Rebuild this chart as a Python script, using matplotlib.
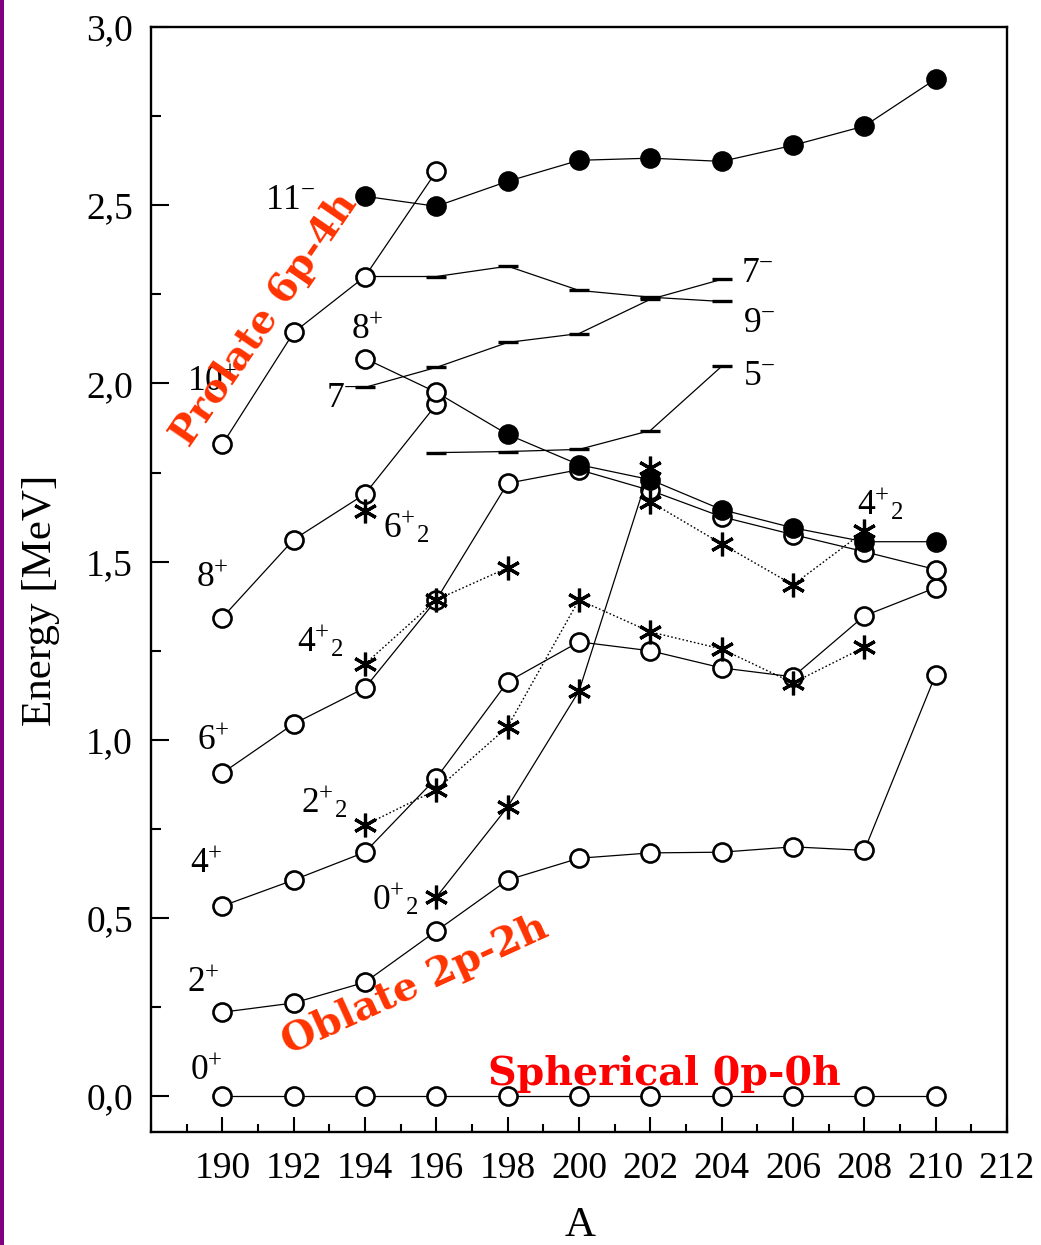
import matplotlib
matplotlib.use("Agg")
import matplotlib.pyplot as plt
from matplotlib.ticker import MultipleLocator, FuncFormatter
from matplotlib.patches import Rectangle

plt.rcParams['font.family'] = ['Liberation Serif', 'DejaVu Serif']
plt.rcParams['mathtext.fontset'] = 'custom'
plt.rcParams['mathtext.rm'] = 'Liberation Serif'
plt.rcParams['mathtext.it'] = 'Liberation Serif:italic'
plt.rcParams['mathtext.bf'] = 'Liberation Serif:bold'

# ---------------- data (A, energy in MeV) ----------------
A_all = [190, 192, 194, 196, 198, 200, 202, 204, 206, 208, 210]

E_0p = [0.0, 0.0, 0.0, 0.0, 0.0, 0.0, 0.0, 0.0, 0.0, 0.0, 0.0]
E_2p = [0.236, 0.262, 0.320, 0.464, 0.607, 0.668, 0.683, 0.685, 0.700, 0.690, 1.183]
E_4p = [0.534, 0.607, 0.685, 0.893, 1.163, 1.275, 1.250, 1.202, 1.177, 1.348, 1.427]
E_6p = [0.907, 1.045, 1.146, 1.393, 1.720, 1.758, 1.700, 1.626, 1.576, 1.528, 1.478]

A_8p = [190, 192, 194, 196]
E_8p = [1.343, 1.562, 1.690, 1.941]

A_10p = [190, 192, 194, 196]
E_10p = [1.829, 2.143, 2.300, 2.595]

A_8hi = [194, 196, 198, 200, 202, 204, 206, 208, 210]
E_8hi = [2.070, 1.975, 1.857, 1.772, 1.730, 1.646, 1.595, 1.556, 1.556]
filled_8hi = [False, False, True, True, True, True, True, True, True]

A_11m = [194, 196, 198, 200, 202, 204, 206, 208, 210]
E_11m = [2.525, 2.497, 2.567, 2.626, 2.632, 2.623, 2.668, 2.722, 2.854]

A_0p2 = [196, 198, 200, 202]
E_0p2 = [0.559, 0.812, 1.137, 1.764]

A_2p2 = [194, 196, 198, 200, 202, 204, 206, 208]
E_2p2 = [0.761, 0.860, 1.037, 1.393, 1.303, 1.255, 1.160, 1.260]

A_4p2 = [194, 196, 198]
E_4p2 = [1.213, 1.393, 1.483]

A_6p2 = [194]
E_6p2 = [1.643]

A_4p2b = [202, 204, 206, 208]
E_4p2b = [1.668, 1.550, 1.435, 1.585]

A_7m = [194, 196, 198, 200, 202, 204]
E_7m = [1.989, 2.045, 2.115, 2.140, 2.236, 2.292]

A_9m = [194, 196, 198, 200, 202, 204]
E_9m = [2.300, 2.300, 2.329, 2.261, 2.242, 2.230]

A_5m = [196, 198, 200, 202, 204]
E_5m = [1.806, 1.809, 1.815, 1.868, 2.048]

x_ticks = [190, 192, 194, 196, 198, 200, 202, 204, 206, 208, 210, 212]

# level labels: (text, A, E) -- left/baseline anchor
level_labels = [
    (r'$\mathrm{11}^{-}$', 191.2, 2.489),
    (r'$\mathrm{10}^{+}$', 189.0, 1.978),
    (r'$\mathrm{8}^{+}$', 193.6, 2.124),
    (r'$\mathrm{7}^{-}$', 192.9, 1.935),
    (r'$\mathrm{7}^{-}$', 204.55, 2.284),
    (r'$\mathrm{9}^{-}$', 204.6, 2.143),
    (r'$\mathrm{5}^{-}$', 204.6, 1.997),
    (r'$\mathrm{4}^{+}{}_{\mathrm{2}}$', 207.8, 1.632),
    (r'$\mathrm{6}^{+}{}_{\mathrm{2}}$', 194.5, 1.567),
    (r'$\mathrm{4}^{+}{}_{\mathrm{2}}$', 192.1, 1.247),
    (r'$\mathrm{8}^{+}$', 189.25, 1.430),
    (r'$\mathrm{6}^{+}$', 189.3, 0.972),
    (r'$\mathrm{2}^{+}{}_{\mathrm{2}}$', 192.2, 0.795),
    (r'$\mathrm{4}^{+}$', 189.1, 0.626),
    (r'$\mathrm{0}^{+}{}_{\mathrm{2}}$', 194.2, 0.522),
    (r'$\mathrm{2}^{+}$', 189.0, 0.292),
    (r'$\mathrm{0}^{+}$', 189.1, 0.045),
]

# ---------------- figure ----------------
fig = plt.figure(figsize=(10.41, 12.45), dpi=100)
ax = fig.add_axes([151/1041, 1 - 1132/1245, 856/1041, 1105/1245])

LW = 0.9
circ = dict(marker='o', ms=13, mec='black', mew=1.9)
star = dict(marker=(6, 2, 0), ms=17, mec='black', mew=2.3)
dash = dict(marker='_', ms=14.5, mec='black', mew=2.4)
dotted = (0, (1.2, 1.6))

def open_series(x, y, zo=3):
    ax.plot(x, y, color='black', lw=LW, mfc='white', zorder=zo, **circ)

def filled_series(x, y, zo=4):
    ax.plot(x, y, color='black', lw=LW, mfc='black', zorder=zo, **circ)

open_series(A_all, E_0p)
open_series(A_all, E_2p)
open_series(A_all, E_4p)
open_series(A_all, E_6p)
open_series(A_8p, E_8p)
open_series(A_10p, E_10p)

# high-spin 8+ (open then filled)
ax.plot(A_8hi, E_8hi, color='black', lw=LW, zorder=3)
for a, e, f in zip(A_8hi, E_8hi, filled_8hi):
    ax.plot([a], [e], ls='none', mfc='black' if f else 'white', zorder=5, **circ)

filled_series(A_11m, E_11m)

# second excited states (stars)
ax.plot(A_0p2, E_0p2, color='black', lw=LW, ls='-', mfc='black', zorder=6, **star)
ax.plot(A_2p2, E_2p2, color='black', lw=1.0, ls=dotted, mfc='black', zorder=6, **star)
ax.plot(A_4p2, E_4p2, color='black', lw=1.0, ls=dotted, mfc='black', zorder=6, **star)
ax.plot(A_6p2, E_6p2, color='black', lw=1.0, ls='none', mfc='black', zorder=6, **star)
ax.plot(A_4p2b, E_4p2b, color='black', lw=1.0, ls=dotted, mfc='black', zorder=6, **star)

# negative-parity levels (dashes)
ax.plot(A_7m, E_7m, color='black', lw=LW, zorder=2, **dash)
ax.plot(A_9m, E_9m, color='black', lw=LW, zorder=2, markevery=slice(1, None), **dash)
ax.plot(A_5m, E_5m, color='black', lw=LW, zorder=2, **dash)

for txt, a, e in level_labels:
    ax.text(a, e, txt, fontsize=25.5, ha='left', va='baseline', zorder=7)

# red annotations
ax.text(191.2, 2.18, 'Prolate 6p-4h', rotation=55.5, rotation_mode='anchor',
        ha='center', va='center', fontsize=28, fontweight='bold',
        family='DejaVu Serif', color='#ff3300', zorder=10)
ax.text(195.4, 0.312, 'Oblate 2p-2h', rotation=24.5, rotation_mode='anchor',
        ha='center', va='center', fontsize=28.5, fontweight='bold',
        family='DejaVu Serif', color='#ff3300', zorder=10)
ax.text(202.4, 0.062, 'Spherical 0p-0h', rotation=0,
        ha='center', va='center', fontsize=28.5, fontweight='bold',
        family='DejaVu Serif', color='#ff0000', zorder=10)

# axes styling
ax.set_xlim(188, 212)
ax.set_ylim(-0.1, 3.0)
ax.set_xticks(x_ticks)
ax.xaxis.set_minor_locator(MultipleLocator(1))
ax.yaxis.set_major_locator(MultipleLocator(0.5))
ax.yaxis.set_minor_locator(MultipleLocator(0.25))
ax.yaxis.set_major_formatter(FuncFormatter(lambda v, p: f'{v:.1f}'.replace('.', ',')))
ax.tick_params(axis='both', which='both', direction='in', width=1.5,
               top=False, right=False, labelsize=27)
ax.tick_params(axis='y', which='major', length=13, pad=13)
ax.tick_params(axis='y', which='minor', length=7)
ax.tick_params(axis='x', which='major', length=11, pad=14)
ax.tick_params(axis='x', which='minor', length=6)
for s in ax.spines.values():
    s.set_linewidth(1.7)

fig.text(41/1041, 1 - 600/1245, 'Energy [MeV]', rotation=90, ha='center',
         va='center', fontsize=31)
fig.text(580/1041, 1 - 1226/1245, 'A', ha='center', va='center', fontsize=31)

# purple edge bar on the left
fig.add_artist(Rectangle((0, 0), 4/1041, 1, transform=fig.transFigure,
                         color='#800080', lw=0))

fig.savefig('out.png', dpi=100)
